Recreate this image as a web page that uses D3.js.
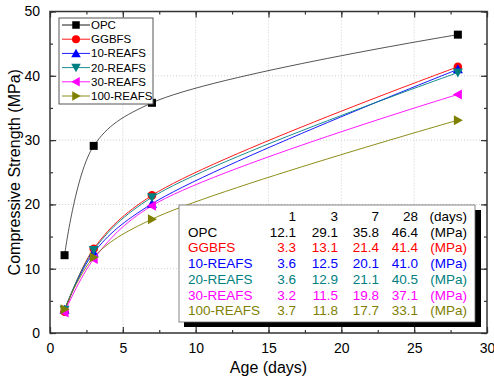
<!DOCTYPE html>
<html>
<head>
<meta charset="utf-8">
<script src="https://cdn.jsdelivr.net/npm/d3@7"></script>
<style>
body { margin: 0; background: #fff; }
text { font-family: "Liberation Sans", Arial, sans-serif; }
</style>
</head>
<body>
<svg id="chart" width="494" height="385"></svg>
<script>
// ages in days
var ages = [1, 3, 7, 28];
var seriesNames = ['OPC', 'GGBFS', '10-REAFS', '20-REAFS', '30-REAFS', '100-REAFS'];
var opc = [12.1, 29.1, 35.8, 46.4];
var ggbfs = [3.3, 13.1, 21.4, 41.4];
var reafs10 = [3.6, 12.5, 20.1, 41.0];
var reafs20 = [3.6, 12.9, 21.1, 40.5];
var reafs30 = [3.2, 11.5, 19.8, 37.1];
var reafs100 = [3.7, 11.8, 17.7, 33.1];
var xTicks = [0, 5, 10, 15, 20, 25, 30];
var yTicks = [0, 10, 20, 30, 40, 50];

var colors = ['#000000', '#ff0000', '#0000ff', '#008080', '#ff00ff', '#808000'];
var shapes = ['square', 'circle', 'up', 'down', 'left', 'right'];
var allValues = [opc, ggbfs, reafs10, reafs20, reafs30, reafs100];

function draw() {
    var series = seriesNames.map(function (n, i) {
        return { name: n, values: allValues[i], color: colors[i], shape: shapes[i] };
    });

    var svg = d3.select('#chart');
    var pL = 50, pR = 487, pT = 11.5, pB = 333;

    var x = d3.scaleLinear().domain([0, 30]).range([pL, pR]);
    var y = d3.scaleLinear().domain([0, 50]).range([pB, pT]);

    // grid
    var grid = svg.append('g');
    grid.selectAll('line.gx').data(xTicks.slice(1, -1)).enter().append('line')
        .attr('x1', function (d) { return x(d); }).attr('x2', function (d) { return x(d); })
        .attr('y1', pT).attr('y2', pB)
        .attr('stroke', '#d0d0d0').attr('stroke-dasharray', '1,2');
    grid.selectAll('line.gy').data(yTicks.slice(1, -1)).enter().append('line')
        .attr('y1', function (d) { return y(d); }).attr('y2', function (d) { return y(d); })
        .attr('x1', pL).attr('x2', pR)
        .attr('stroke', '#d0d0d0').attr('stroke-dasharray', '1,2');

    // axes with inward ticks
    function styleAxis(g) {
        g.select('.domain').remove();
        g.selectAll('.tick line').attr('stroke', '#333').attr('stroke-width', 1.2);
        g.selectAll('.tick text').attr('font-size', 14).attr('fill', '#000')
            .attr('font-family', '"Liberation Sans", Arial, sans-serif');
    }
    var xMinor = d3.range(0, 30.1, 2.5);
    var yMinor = d3.range(0, 50.1, 5);

    var gx = svg.append('g').attr('transform', 'translate(0,' + pB + ')')
        .call(d3.axisBottom(x).tickValues(xTicks).tickSize(-6).tickPadding(10));
    styleAxis(gx);
    styleAxis(svg.append('g').attr('transform', 'translate(0,' + pB + ')')
        .call(d3.axisBottom(x).tickValues(xMinor).tickSize(-3).tickFormat('')));
    styleAxis(svg.append('g').attr('transform', 'translate(0,' + pT + ')')
        .call(d3.axisTop(x).tickValues(xMinor).tickSize(-3).tickFormat('')));
    styleAxis(svg.append('g').attr('transform', 'translate(0,' + pT + ')')
        .call(d3.axisTop(x).tickValues(xTicks).tickSize(-6).tickFormat('')));

    var gy = svg.append('g').attr('transform', 'translate(' + pL + ',0)')
        .call(d3.axisLeft(y).tickValues(yTicks).tickSize(-6).tickPadding(10));
    styleAxis(gy);
    styleAxis(svg.append('g').attr('transform', 'translate(' + pL + ',0)')
        .call(d3.axisLeft(y).tickValues(yMinor).tickSize(-3).tickFormat('')));
    styleAxis(svg.append('g').attr('transform', 'translate(' + pR + ',0)')
        .call(d3.axisRight(y).tickValues(yMinor).tickSize(-3).tickFormat('')));
    styleAxis(svg.append('g').attr('transform', 'translate(' + pR + ',0)')
        .call(d3.axisRight(y).tickValues(yTicks).tickSize(-6).tickFormat('')));

    svg.append('rect').attr('x', pL).attr('y', pT)
        .attr('width', pR - pL).attr('height', pB - pT)
        .attr('fill', 'none').attr('stroke', '#333').attr('stroke-width', 1.5);

    // axis titles
    svg.append('text').attr('x', (pL + pR) / 2).attr('y', 373)
        .attr('text-anchor', 'middle').attr('font-size', 16).text('Age (days)');
    svg.append('text').attr('transform', 'translate(20,' + ((pT + pB) / 2) + ') rotate(-90)')
        .attr('text-anchor', 'middle').attr('font-size', 16).text('Compressive Strength (MPa)');

    // marker symbols
    function markerPath(shape, s) {
        var h = s / 2;
        if (shape === 'square') return 'M' + (-h) + ',' + (-h) + 'h' + s + 'v' + s + 'h' + (-s) + 'Z';
        if (shape === 'up') return 'M0,' + (-h - 1) + 'L' + (h + 1) + ',' + h + 'L' + (-h - 1) + ',' + h + 'Z';
        if (shape === 'down') return 'M0,' + (h + 1) + 'L' + (h + 1) + ',' + (-h) + 'L' + (-h - 1) + ',' + (-h) + 'Z';
        if (shape === 'left') return 'M' + (-h - 1) + ',0L' + h + ',' + (-h - 1) + 'L' + h + ',' + (h + 1) + 'Z';
        if (shape === 'right') return 'M' + (h + 1) + ',0L' + (-h) + ',' + (-h - 1) + 'L' + (-h) + ',' + (h + 1) + 'Z';
        return d3.symbol().type(d3.symbolCircle).size(s * s * 0.9)();
    }

    var line = d3.line()
        .x(function (d, i) { return x(ages[i]); })
        .y(function (d) { return y(d); })
        .curve(d3.curveCatmullRom.alpha(0.5));

    var plot = svg.append('g');
    series.forEach(function (s) {
        plot.append('path').datum(s.values).attr('d', line)
            .attr('fill', 'none').attr('stroke', s.color).attr('stroke-width', 0.9)
            .attr('stroke-opacity', s.name === 'OPC' ? 0.75 : 1);
    });
    series.forEach(function (s) {
        plot.selectAll(null).data(s.values).enter().append('path')
            .attr('transform', function (d, i) { return 'translate(' + x(ages[i]) + ',' + y(d) + ')'; })
            .attr('d', markerPath(s.shape, 8))
            .attr('fill', s.color);
    });

    // legend
    var lg = svg.append('g').attr('transform', 'translate(59,18)');
    lg.append('rect').attr('width', 94).attr('height', 86)
        .attr('fill', '#fff').attr('stroke', '#555').attr('stroke-width', 1);
    series.forEach(function (s, i) {
        var yy = 7 + i * 14.2;
        lg.append('line').attr('x1', 3).attr('x2', 31).attr('y1', yy).attr('y2', yy)
            .attr('stroke', s.color).attr('stroke-width', 0.9);
        lg.append('path').attr('transform', 'translate(17,' + yy + ')')
            .attr('d', markerPath(s.shape, 7.5)).attr('fill', s.color);
        lg.append('text').attr('x', 32).attr('y', yy + 4).attr('font-size', 11.5)
            .text(s.name);
    });

    // data table box
    var tb = svg.append('g');
    tb.append('rect').attr('x', 184).attr('y', 210).attr('width', 297).attr('height', 117).attr('fill', '#000');
    tb.append('rect').attr('x', 179).attr('y', 205).attr('width', 296).attr('height', 117)
        .attr('fill', '#fff').attr('stroke', '#666').attr('stroke-width', 0.8);
    var colX = [296, 338, 379, 418];
    var rowY0 = 221, rowStep = 15.7;
    colX.forEach(function (cx, j) {
        tb.append('text').attr('x', cx).attr('y', rowY0).attr('text-anchor', 'end')
            .attr('font-size', 13.5).text(ages[j]);
    });
    tb.append('text').attr('x', 467).attr('y', rowY0).attr('text-anchor', 'end')
        .attr('font-size', 13.5).text('(days)');
    series.forEach(function (s, i) {
        var yy = rowY0 + (i + 1) * rowStep;
        tb.append('text').attr('x', 188).attr('y', yy).attr('font-size', 13.5)
            .attr('fill', s.color).text(s.name);
        s.values.forEach(function (v, j) {
            tb.append('text').attr('x', colX[j]).attr('y', yy).attr('text-anchor', 'end')
                .attr('font-size', 13.5).attr('fill', s.color).text(v.toFixed(1));
        });
        tb.append('text').attr('x', 467).attr('y', yy).attr('text-anchor', 'end')
            .attr('font-size', 13.5).attr('fill', s.color).text('(MPa)');
    });
}
draw();
</script>
</body>
</html>
